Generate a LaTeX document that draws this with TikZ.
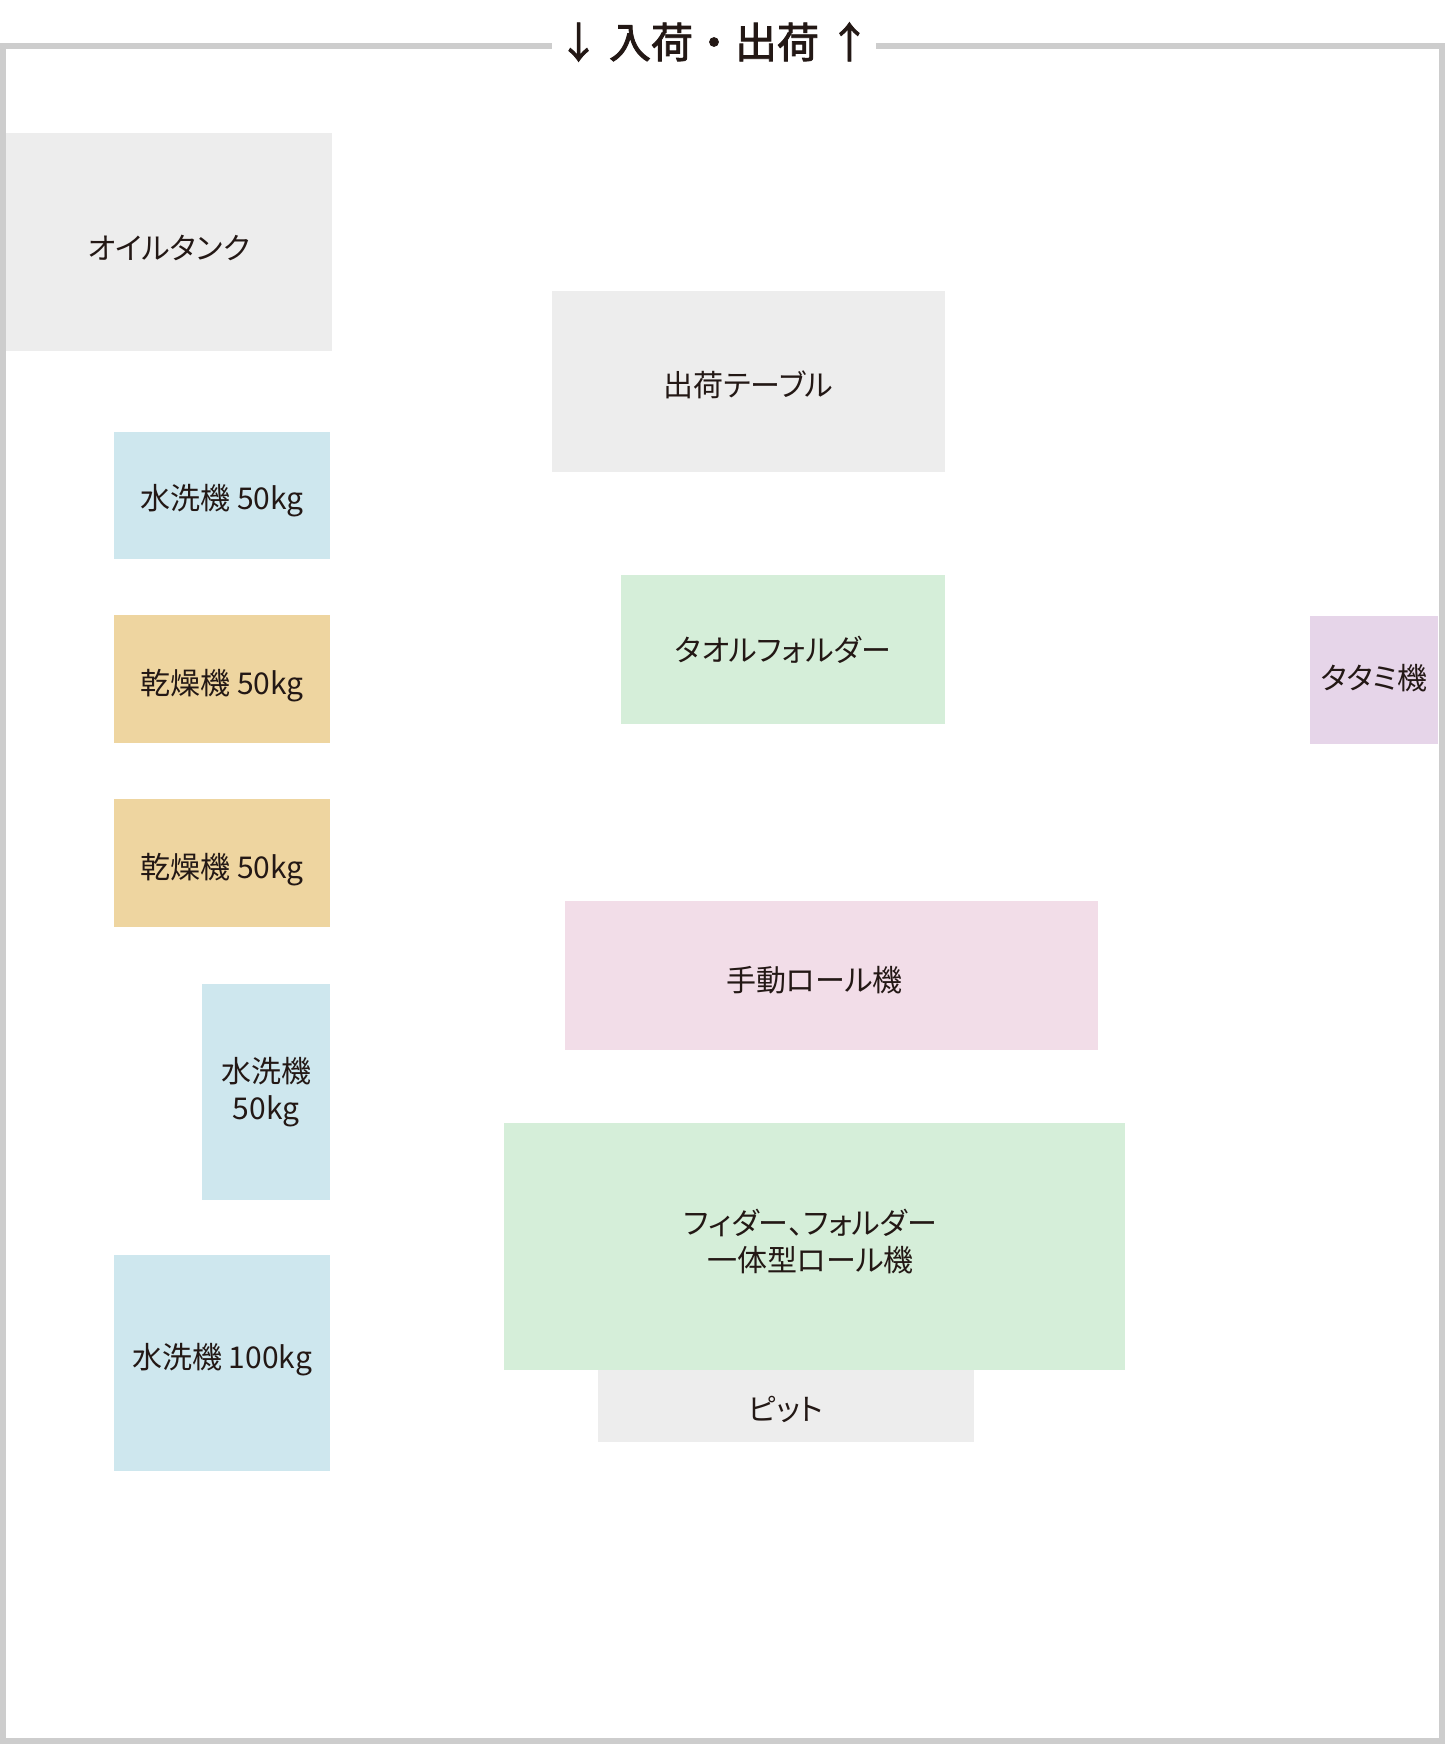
\documentclass[tikz,border=0pt]{standalone}
\usepackage{fontspec}
\setmainfont{Noto Sans CJK JP}
\newfontfamily\boxfont[RawFeature=+palt]{Noto Sans CJK JP}
\newfontfamily\doorfont[FakeBold=2]{Noto Sans CJK JP}
\usetikzlibrary{positioning}

\definecolor{wallgray}{HTML}{CDCDCD}
\definecolor{inkcol}{HTML}{231815}
\definecolor{graycol}{HTML}{EDEDED}
\definecolor{washcol}{HTML}{CEE7EE}
\definecolor{drycol}{HTML}{EED5A0}
\definecolor{foldcol}{HTML}{D5EED9}
\definecolor{tatamicol}{HTML}{E6D5E9}
\definecolor{rollcol}{HTML}{F2DDE8}

\begin{document}
\begin{tikzpicture}[x=1pt, y=-1pt,
  unit/.style={rectangle, inner sep=0pt, text=inkcol, align=center,
    font=\boxfont\fontsize{30}{37}\selectfont},
  size/.style 2 args={minimum width=#1, minimum height=#2},
  lbl/.style={inner sep=0pt, text=inkcol, align=center,
    font=\boxfont\fontsize{30}{37}\selectfont}]
  \useasboundingbox (0,0) rectangle (1445,1744);
  % outer wall
  \draw[wallgray, line width=6pt] (3,46) rectangle (1442,1741);
  \node[fill=white, inner sep=0pt, size={324}{40}, text=inkcol,
    font=\doorfont\fontsize{42}{42}\selectfont] (door) at (714,42) {↓ 入荷・出荷 ↑};
  % left side
  \node[unit, fill=graycol, size={326}{218}] (oil) at (169,242) {};
  \node[lbl] at ([yshift=-6]oil.center) {オイルタンク};
  \node[unit, fill=washcol, size={216}{127}] (washA) at (222,495.5) {};
  \node[lbl] at ([yshift=-5]washA.center) {水洗機 50kg};
  \node[unit, fill=drycol, size={216}{128}] (dryA) at (222,679) {};
  \node[lbl] at ([yshift=-7]dryA.center) {乾燥機 50kg};
  \node[unit, fill=drycol, size={216}{128}] (dryB) at (222,863) {};
  \node[lbl] at ([yshift=-7]dryB.center) {乾燥機 50kg};
  \node[unit, fill=washcol, size={128}{216}] (washB) at (266,1092) {水洗機\\50kg};
  \node[unit, fill=washcol, size={216}{216}] (washC) at (222,1363) {};
  \node[lbl] at ([yshift=3]washC.center) {水洗機 100kg};
  % middle
  \node[unit, fill=graycol, size={393}{181}] (table) at (748.5,381.5) {};
  \node[lbl] at ([yshift=-3.5]table.center) {出荷テーブル};
  \node[unit, fill=foldcol, size={324}{149}] (towel) at (783,649.5) {タオルフォルダー};
  \node[unit, fill=rollcol, size={533}{149}] (roll) at (831.5,975.5) {};
  \node[lbl] at ([xshift=-17,yshift=-5]roll.center) {手動ロール機};
  \node[unit, fill=graycol, size={376}{72}] (pit) at (786,1406) {};
  \node[lbl] at ([yshift=-3]pit.center) {ピット};
  \node[unit, fill=foldcol, size={621}{247}] (feeder) at (814.5,1246.5) {};
  \node[lbl] at ([xshift=-4,yshift=5]feeder.center) {フィダー、フォルダー\\一体型ロール機};
  % right side
  \node[unit, fill=tatamicol, size={128}{128}] (tatami) at (1374,680) {};
  \node[lbl] at ([yshift=2]tatami.center) {タタミ機};
\end{tikzpicture}
\end{document}
